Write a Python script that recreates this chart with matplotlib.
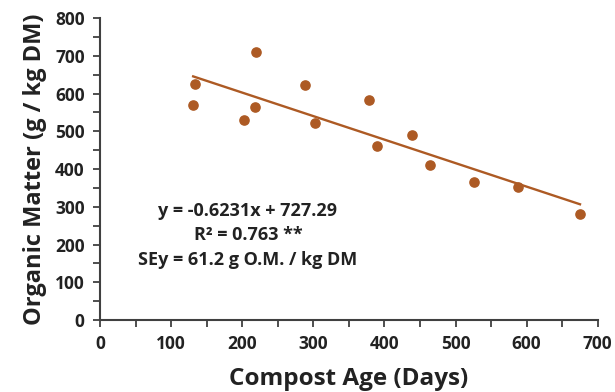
import numpy as np
import matplotlib.pyplot as plt
from matplotlib.ticker import MultipleLocator

# compost age (days) and organic matter (g / kg DM)
age_days = [131, 134, 202, 218, 220, 288, 302, 378, 389, 439, 464, 526, 588, 675]
organic_matter = [569, 625, 530, 565, 710, 623, 521, 582, 462, 491, 412, 365, 353, 280]

# regression reported on the chart
slope = -0.6231
intercept = 727.29
eq_lines = ["y = -0.6231x + 727.29", "R\u00b2 = 0.763 **", "SEy = 61.2 g O.M. / kg DM"]

color = '#AD5A24'
plt.rcParams['font.family'] = ['Open Sans', 'DejaVu Sans']

fig = plt.figure(figsize=(6.15, 3.92), dpi=100)
ax = fig.add_axes([0.1626, 0.1837, 0.8094, 0.770])

ax.scatter(age_days, organic_matter, s=44, color=color, zorder=3)
xfit = np.array([min(age_days), max(age_days)])
ax.plot(xfit, slope * xfit + intercept, color=color, lw=1.7)

ax.set_xlim(0, 700)
ax.set_ylim(0, 800)
ax.xaxis.set_major_locator(MultipleLocator(100))
ax.xaxis.set_minor_locator(MultipleLocator(50))
ax.yaxis.set_major_locator(MultipleLocator(100))
ax.yaxis.set_minor_locator(MultipleLocator(50))
for s in ['top', 'right']:
    ax.spines[s].set_visible(False)
for s in ['left', 'bottom']:
    ax.spines[s].set_color('#404040')
    ax.spines[s].set_linewidth(1.5)
ax.tick_params(which='both', direction='out', length=5, width=1.3, color='#404040')
ax.tick_params(which='major', labelsize=12.5, labelcolor='#222222', pad=6)
for lab in ax.get_xticklabels() + ax.get_yticklabels():
    lab.set_fontweight('bold')

ax.set_xlabel('Compost Age (Days)', fontsize=17.5, fontweight='bold', color='#222222', labelpad=10)
ax.set_ylabel('Organic Matter (g / kg DM)', fontsize=17, fontweight='bold', color='#222222', labelpad=6)

for i, line in enumerate(eq_lines):
    ax.text(0.297, 0.362 - i * 0.081, line, transform=ax.transAxes, ha='center', va='center',
            fontsize=13, fontweight='bold', color='#222222')

fig.savefig('out.png', dpi=100)
